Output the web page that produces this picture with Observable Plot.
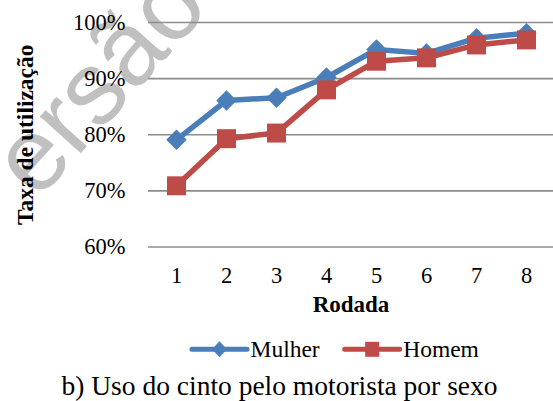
<!DOCTYPE html>
<html><head><meta charset="utf-8">
<script src="https://cdn.jsdelivr.net/npm/d3@7"></script>
<script src="https://cdn.jsdelivr.net/npm/@observablehq/plot@0.6"></script>
<style>
html,body{margin:0;padding:0;background:#fff;}
#wrap{position:relative;width:553px;height:401px;overflow:hidden;background:#fff;}
#chart{position:absolute;left:0;top:0;}
#overlay{position:absolute;left:0;top:0;}
#chart svg g[aria-label$="tick label"], #chart svg g[aria-label$="tick label"] text {
  font-family: "Liberation Serif", "Times New Roman", serif !important;
  font-variant: normal !important;
}
</style>
</head><body>
<div id="wrap"><div id="chart"></div><svg id="overlay" width="553" height="401"></svg></div>
<script>
const rounds = [1, 2, 3, 4, 5, 6, 7, 8];
const mulher = [0.791, 0.861, 0.866, 0.902, 0.952, 0.945, 0.972, 0.981];
const homem  = [0.709, 0.793, 0.803, 0.880, 0.931, 0.937, 0.960, 0.969];
const yTicks = [0.6, 0.7, 0.8, 0.9, 1.0];
const seriesNames = ["Mulher", "Homem"];
const seriesColors = ["#4a7ebb", "#be4b48"];
const seriesSymbols = ["diamond2", "square"];
const xLabel = "Rodada";
const yLabel = "Taxa de utilização";
const caption = "b) Uso do cinto pelo motorista por sexo";
const watermark = "ersão";

const seriesValues = [mulher, homem];
const rows = seriesNames.flatMap((name, k) =>
  rounds.map((r, i) => ({round: r, value: seriesValues[k][i], sex: name})));

const serif = "Liberation Serif, Times New Roman, serif";

const marks = [
  Plot.text([watermark], {text: d => d, frameAnchor: "top-left", dx: -49, dy: 60, rotate: -48,
    fontSize: 104, fill: "#c0c0c0", fontFamily: "Liberation Sans, Arial, sans-serif",
    textAnchor: "middle", lineAnchor: "middle"}),
  Plot.ruleY(yTicks, {stroke: "#8c8c8c", strokeWidth: 1.6}),
  Plot.axisY({ticks: yTicks, tickFormat: d => Math.round(d * 100) + "%", tickSize: 0, tickPadding: 23,
    label: null, fontSize: 22.5, fontFamily: serif, fill: "#000"}),
  Plot.axisX({ticks: rounds, tickSize: 0, tickPadding: 20, label: null, fontSize: 22.5, fontFamily: serif, fill: "#000"}),
];
seriesNames.forEach((name, k) => {
  const data = rows.filter(d => d.sex === name);
  marks.push(Plot.line(data, {x: "round", y: "value", stroke: seriesColors[k], strokeWidth: 5.5}));
  marks.push(Plot.dot(data, {x: "round", y: "value", symbol: seriesSymbols[k], fill: seriesColors[k],
    stroke: "none", r: k === 0 ? 9.2 : 10.7}));
});
marks.push(Plot.text([xLabel], {text: d => d, frameAnchor: "bottom", dy: 64.5, fontWeight: "bold", fontSize: 23,
  fontFamily: serif, fill: "#000"}));
marks.push(Plot.text([yLabel], {text: d => d, frameAnchor: "left", dx: -123, rotate: -90, textAnchor: "middle",
  lineAnchor: "middle", fontWeight: "bold", fontSize: 23.5, fontFamily: serif, fill: "#000"}));

const chart = Plot.plot({
  width: 553, height: 330,
  marginLeft: 148, marginRight: 0, marginTop: 22, marginBottom: 83.5,
  style: {fontFamily: serif, fontSize: "22px", background: "transparent", color: "#000", overflow: "visible"},
  x: {type: "point", domain: rounds, padding: 0.5, label: null},
  y: {domain: [0.6, 1.0], label: null},
  marks
});
document.getElementById("chart").appendChild(chart);

// Legend and caption
const svg = d3.select("#overlay");
const legY = 349.3;
let cx = 192;
seriesNames.forEach((name, k) => {
  const g = svg.append("g");
  g.append("line").attr("x1", cx).attr("x2", cx + 55).attr("y1", legY).attr("y2", legY)
    .attr("stroke", seriesColors[k]).attr("stroke-width", 5).attr("stroke-linecap", "round");
  const mx = cx + 27.5;
  if (k === 0) {
    g.append("path").attr("d", `M${mx},${legY - 8}L${mx + 7.5},${legY}L${mx},${legY + 8}L${mx - 7.5},${legY}Z`)
      .attr("fill", seriesColors[k]);
  } else {
    g.append("rect").attr("x", mx - 7).attr("y", legY - 7.5).attr("width", 14).attr("height", 15)
      .attr("fill", seriesColors[k]);
  }
  const t = g.append("text").attr("x", cx + 58.5).attr("y", 356.7).text(name)
    .attr("font-family", serif).attr("font-size", 23.5).attr("fill", "#000");
  cx = cx + 58.5 + t.node().getComputedTextLength() + 25;
});
svg.append("text").attr("x", 279.5).attr("y", 395).attr("text-anchor", "middle").text(caption)
  .attr("font-family", serif).attr("font-size", 27.5).attr("fill", "#000");
</script>
</body></html>
